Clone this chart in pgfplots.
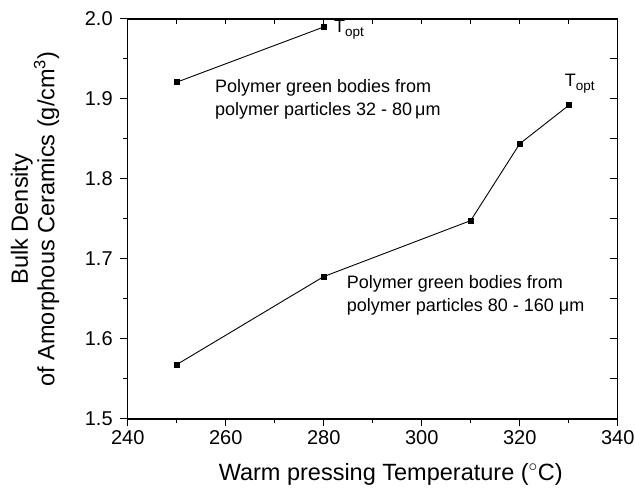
\documentclass[border=0pt]{standalone}
\usepackage{pgfplots}
\pgfplotsset{compat=1.18}
\usepackage{fontspec}
\setmainfont{Liberation Sans}
\newcommand{\Topt}{{\fontsize{18}{18}\selectfont T}\raisebox{-4.5pt}{\fontsize{13.5}{13.5}\selectfont opt}}
\begin{document}
\begin{tikzpicture}
\pgfplotsset{
  common/.style={
    scale only axis, width=490pt, height=400pt,
    xmin=240, xmax=340, ymin=1.5, ymax=2.0,
    axis line style={line width=1.1pt},
    tick style={black, line width=1pt},
  }
}
\begin{axis}[common,
  axis x line*=bottom, axis y line*=left,
  xtick={240,260,280,300,320,340},
  minor xtick={250,270,290,310,330},
  ytick={1.5,1.6,1.7,1.8,1.9,2.0},
  minor ytick={1.55,1.65,1.75,1.85,1.95},
  tick align=outside, major tick length=7.5pt, minor tick length=4.3pt,
  ticklabel style={font=\fontsize{20}{20}\selectfont},
  /pgf/number format/assume math mode=true,
  yticklabel style={xshift=-4pt, /pgf/number format/fixed, /pgf/number format/fixed zerofill, /pgf/number format/precision=1},
  xticklabel style={yshift=-1pt},
  xlabel={Warm pressing Temperature ($^{\circ}$C)},
  ylabel={Bulk Density\\of Amorphous Ceramics (g/cm\textsuperscript{3})},
  label style={font=\fontsize{23.5}{23}\selectfont},
  xlabel style={at={(axis description cs:0.5,0)}, anchor=base, yshift=-62pt, xshift=18pt},
  ylabel style={align=center, at={(axis description cs:0,0.5)}, anchor=south, yshift=65pt},
]
\addplot[black, line width=0.9pt, mark=square*, mark size=2.5pt] coordinates {(250,1.921) (280,1.990)};
\addplot[black, line width=0.9pt, mark=square*, mark size=2.5pt] coordinates {(250,1.568) (280,1.678) (310,1.748) (320,1.844) (330,1.892)};
\node[anchor=base west, font=\fontsize{18}{18}\selectfont, inner sep=0pt] at (axis cs:257.8,1.908) {Polymer green bodies from};
\node[anchor=base west, font=\fontsize{18}{18}\selectfont, inner sep=0pt] at (axis cs:257.8,1.8792) {polymer particles 32 - 80\,μm};
\node[anchor=base west, font=\fontsize{18}{18}\selectfont, inner sep=0pt] at (axis cs:284.7,1.6637) {Polymer green bodies from};
\node[anchor=base west, font=\fontsize{18}{18}\selectfont, inner sep=0pt] at (axis cs:284.7,1.6349) {polymer particles 80 - 160 μm};
\node[anchor=base west, inner sep=0pt] at (axis cs:282.1,1.9837) {\Topt};
\node[anchor=base west, inner sep=0pt] at (axis cs:329.2,1.916) {\Topt};
\end{axis}
\begin{axis}[common,
  axis x line*=top, axis y line=none,
  xtick={240,250,...,340}, xticklabels={},
  tick align=inside, major tick length=5pt,
]
\end{axis}
\begin{axis}[common,
  axis y line*=right, axis x line=none,
  ytick={1.5,1.55,1.6,1.65,1.7,1.75,1.8,1.85,1.9,1.95,2.0}, yticklabels={},
  tick align=inside, major tick length=8pt,
]
\end{axis}
\pgfresetboundingbox
\useasboundingbox (-127.7pt,-72.3pt) rectangle (507.3pt,419pt);
\end{tikzpicture}
\end{document}
